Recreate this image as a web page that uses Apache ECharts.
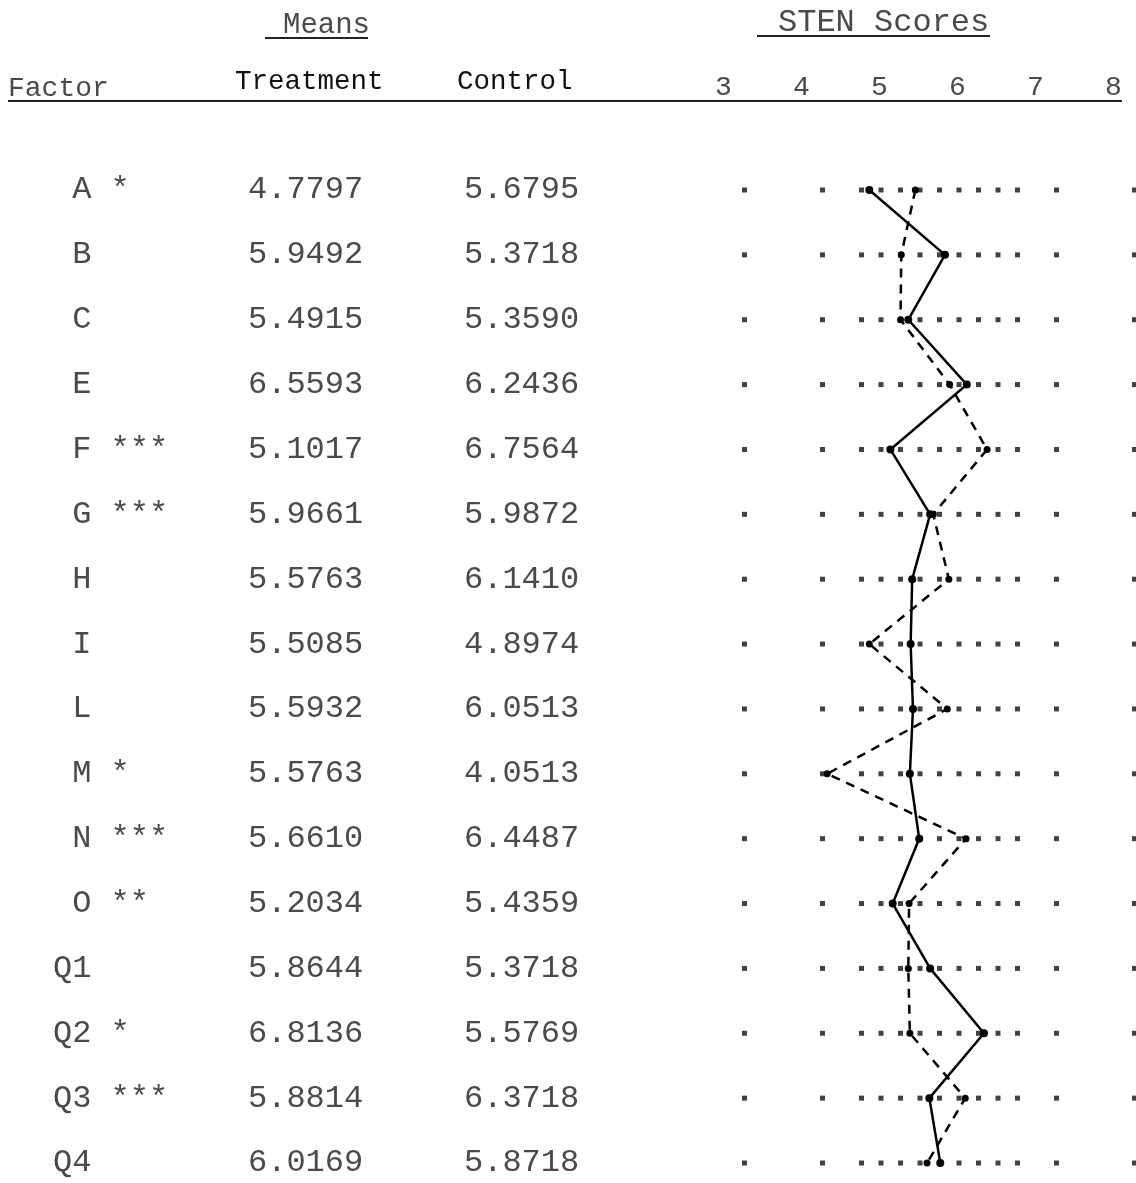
<!DOCTYPE html>
<html><head><meta charset="utf-8">
<script src="https://cdn.jsdelivr.net/npm/echarts@6/dist/echarts.min.js"></script>
<style>html,body{margin:0;padding:0;background:#fff}#chart{width:1136px;height:1183px}</style>
</head><body><div id="chart"></div>
<script>
// ---- data ----
const factors = ['A','B','C','E','F','G','H','I','L','M','N','O','Q1','Q2','Q3','Q4'];
const significance = ['*','','','','***','***','','','','*','***','**','','*','***',''];
const treatmentMeans = [4.7797,5.9492,5.4915,6.5593,5.1017,5.9661,5.5763,5.5085,5.5932,5.5763,5.6610,5.2034,5.8644,6.8136,5.8814,6.0169];
const controlMeans   = [5.6795,5.3718,5.3590,6.2436,6.7564,5.9872,6.1410,4.8974,6.0513,4.0513,6.4487,5.4359,5.3718,5.5769,6.3718,5.8718];
// STEN profile positions as plotted in the picture
const treatmentSten = [4.60,5.57,5.10,5.85,4.87,5.38,5.15,5.13,5.16,5.12,5.24,4.90,5.38,6.07,5.37,5.51];
const controlSten   = [5.19,5.01,5.00,5.63,6.11,5.42,5.62,4.60,5.60,4.06,5.84,5.11,5.10,5.12,5.83,5.34];
const stenTicks = [3,4,5,6,7,8];
const guideDots = [3,4,4.5,4.75,5,5.25,5.5,5.75,6,6.25,6.5,7,8];

// ---- chart ----
const MONO = '"Liberation Mono", "DejaVu Sans Mono", monospace';
const TXT = '#4a4a4a';
const chart = echarts.init(document.getElementById('chart'), null, {renderer: 'canvas'});

const gridLeft = 744.5;
const catAxis = (margin, formatter, color, size) => ({
  type: 'category', data: factors, inverse: true, boundaryGap: false, position: 'left',
  axisLine: {show: false}, axisTick: {show: false}, splitLine: {show: false},
  axisLabel: {interval: 0, align: 'left', margin: margin, formatter: formatter,
    fontFamily: MONO, fontSize: size, color: color, padding: [0, 0, 6, 0]}
});

const guideData = [];
factors.forEach(f => guideDots.forEach(v => guideData.push([v, f])));

chart.setOption({
  animation: false,
  backgroundColor: '#fff',
  grid: {left: gridLeft, right: 1.5, top: 190, bottom: 20},
  xAxis: {
    type: 'value', min: 3, max: 8, interval: 1, position: 'top',
    axisLine: {show: false}, axisTick: {show: false}, splitLine: {show: false},
    axisLabel: {margin: 88, padding: [0, 42, 0, 0], fontFamily: MONO, fontSize: 28, color: TXT,
      formatter: v => stenTicks.includes(v) ? String(v) : ''}
  },
  yAxis: [
    catAxis(gridLeft - 53, (v, i) => v.padStart(2, ' ') + (significance[i] ? ' ' + significance[i] : ''), TXT, 32),
    catAxis(gridLeft - 248, (v, i) => treatmentMeans[i].toFixed(4), TXT, 32),
    catAxis(gridLeft - 464, (v, i) => controlMeans[i].toFixed(4), TXT, 32)
  ],
  series: [
    {type: 'scatter', data: guideData, symbol: 'rect', symbolSize: 5, clip: false,
      itemStyle: {color: '#111'}, silent: true, z: 1},
    {type: 'line', name: 'Treatment', data: factors.map((f, i) => [treatmentSten[i], f]), clip: false,
      symbol: 'circle', symbolSize: 8, itemStyle: {color: '#000'},
      lineStyle: {color: '#000', width: 2.5, type: 'solid'}, z: 3},
    {type: 'line', name: 'Control', data: factors.map((f, i) => [controlSten[i], f]), clip: false,
      symbol: 'circle', symbolSize: 7, itemStyle: {color: '#000'},
      lineStyle: {color: '#000', width: 2.5, type: [9, 7]}, z: 2}
  ],
  graphic: [
    {type: 'text', x: 283, y: 25, style: {text: 'Means', fontFamily: MONO, fontSize: 29, fill: TXT, align: 'left', verticalAlign: 'middle'}},
    {type: 'text', x: 778, y: 23, style: {text: 'STEN Scores', fontFamily: MONO, fontSize: 32, fill: TXT, align: 'left', verticalAlign: 'middle'}},
    {type: 'text', x: 8, y: 89, style: {text: 'Factor', fontFamily: MONO, fontSize: 28, fill: TXT, align: 'left', verticalAlign: 'middle'}},
    {type: 'text', x: 235, y: 82, style: {text: 'Treatment', fontFamily: MONO, fontSize: 27.5, fill: '#111', align: 'left', verticalAlign: 'middle'}},
    {type: 'text', x: 457, y: 82, style: {text: 'Control', fontFamily: MONO, fontSize: 27.5, fill: '#111', align: 'left', verticalAlign: 'middle'}},
    {type: 'line', shape: {x1: 265, y1: 38, x2: 368, y2: 38}, style: {stroke: '#222', lineWidth: 2}},
    {type: 'line', shape: {x1: 757, y1: 36, x2: 990, y2: 36}, style: {stroke: '#222', lineWidth: 2}},
    {type: 'line', shape: {x1: 8, y1: 101, x2: 1122, y2: 101}, style: {stroke: '#222', lineWidth: 2}}
  ]
});
</script></body></html>
